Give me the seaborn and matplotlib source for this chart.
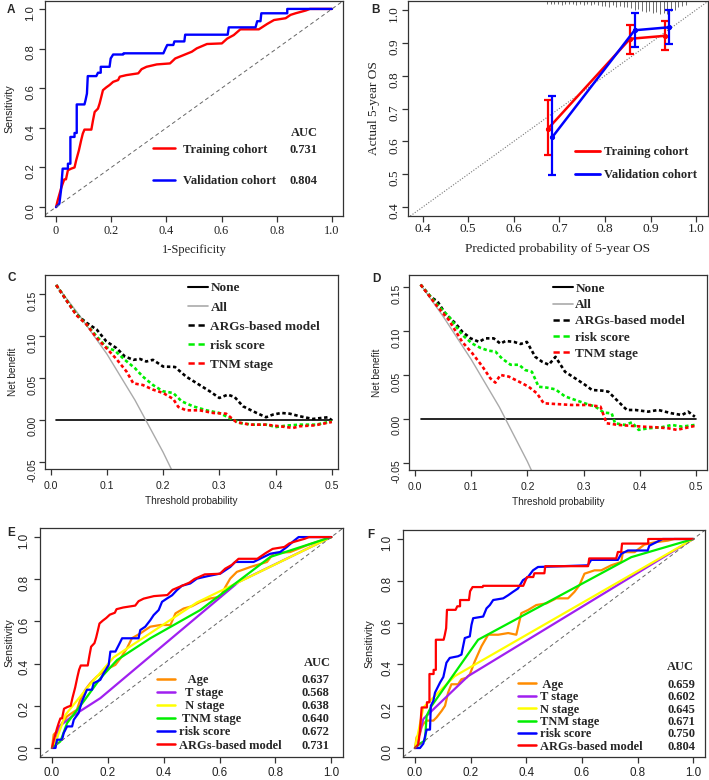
import numpy as np
import matplotlib
matplotlib.use("Agg")
import matplotlib.pyplot as plt
import seaborn as sns
from matplotlib.lines import Line2D
from matplotlib.legend import Legend
from matplotlib.ticker import FormatStrFormatter

# ---------------- panel A / E / F : ROC curves ----------------
train_fpr = [0, 0.006, 0.018, 0.024, 0.030, 0.036, 0.043, 0.055, 0.067, 0.073, 0.083, 0.091, 0.097,
             0.103, 0.128, 0.134, 0.140, 0.152, 0.158, 0.164, 0.170, 0.182, 0.194, 0.207, 0.225,
             0.231, 0.255, 0.298, 0.310, 0.328, 0.365, 0.413, 0.432, 0.462, 0.492, 0.510, 0.547,
             0.601, 0.620, 0.644, 0.668, 0.735, 0.765, 0.790, 0.832, 0.850, 0.868, 0.905, 0.920, 1.0]
train_tpr = [0, 0.034, 0.093, 0.118, 0.140, 0.140, 0.186, 0.194, 0.200, 0.236, 0.287, 0.337, 0.371,
             0.391, 0.391, 0.438, 0.480, 0.497, 0.523, 0.556, 0.590, 0.604, 0.616, 0.632, 0.641,
             0.658, 0.666, 0.675, 0.696, 0.708, 0.720, 0.725, 0.750, 0.767, 0.784, 0.801, 0.823,
             0.826, 0.850, 0.868, 0.897, 0.897, 0.924, 0.944, 0.953, 0.970, 0.978, 0.992, 1.0, 1.0]
valid_fpr = [0, 0.012, 0.018, 0.024, 0.043, 0.043, 0.052, 0.052, 0.067, 0.067, 0.075, 0.075, 0.103,
             0.107, 0.112, 0.115, 0.146, 0.152, 0.162, 0.162, 0.194, 0.198, 0.207, 0.243, 0.245,
             0.389, 0.397, 0.403, 0.425, 0.429, 0.465, 0.468, 0.622, 0.626, 0.723, 0.729, 0.741,
             0.744, 0.838, 0.838, 1.0]
valid_tpr = [0, 0.017, 0.084, 0.194, 0.194, 0.219, 0.219, 0.354, 0.354, 0.374, 0.374, 0.518, 0.518,
             0.540, 0.573, 0.661, 0.661, 0.678, 0.678, 0.708, 0.708, 0.750, 0.770, 0.770, 0.776,
             0.776, 0.801, 0.818, 0.818, 0.836, 0.836, 0.870, 0.870, 0.907, 0.907, 0.938, 0.938,
             0.978, 0.978, 1.0, 1.0]
cohort_names = ["Training cohort", "Validation cohort"]
cohort_auc = ["0.731", "0.804"]
cohort_colors = ["#FF0000", "#0000FF"]

# training cohort (E)
e_age_fpr = [0, 0.006, 0.024, 0.036, 0.054, 0.089, 0.101, 0.119, 0.137, 0.161, 0.185, 0.203, 0.227,
             0.245, 0.268, 0.286, 0.316, 0.352, 0.388, 0.424, 0.442, 0.471, 0.501, 0.531, 0.567,
             0.603, 0.621, 0.638, 0.662, 0.710, 0.770, 0.794, 0.853, 0.913, 1.0]
e_age_tpr = [0, 0.063, 0.087, 0.118, 0.150, 0.181, 0.228, 0.276, 0.307, 0.339, 0.362, 0.378, 0.394,
             0.425, 0.472, 0.520, 0.543, 0.575, 0.583, 0.583, 0.638, 0.661, 0.672, 0.693, 0.709,
             0.717, 0.764, 0.803, 0.835, 0.858, 0.882, 0.924, 0.929, 0.961, 1.0]
e_t_fpr = [0, 0.012, 0.024, 0.072, 0.173, 0.668, 1.0]
e_t_tpr = [0, 0.0, 0.100, 0.150, 0.236, 0.787, 1.0]
e_n_fpr = [0, 0.018, 0.048, 0.125, 0.221, 0.519, 1.0]
e_n_tpr = [0, 0.047, 0.157, 0.283, 0.430, 0.690, 1.0]
e_tnm_fpr = [0, 0.030, 0.054, 0.113, 0.173, 0.233, 0.352, 0.531, 0.782, 1.0]
e_tnm_tpr = [0, 0.031, 0.118, 0.220, 0.330, 0.417, 0.520, 0.654, 0.906, 1.0]
e_risk_fpr = [0, 0.012, 0.018, 0.036, 0.042, 0.054, 0.072, 0.078, 0.095, 0.107, 0.125, 0.143, 0.149,
              0.173, 0.185, 0.203, 0.209, 0.227, 0.239, 0.251, 0.310, 0.316, 0.334, 0.352, 0.364,
              0.382, 0.394, 0.412, 0.430, 0.447, 0.465, 0.495, 0.519, 0.555, 0.603, 0.638, 0.656,
              0.722, 0.746, 0.782, 0.817, 0.841, 0.865, 0.883, 1.0]
e_risk_tpr = [0, 0, 0.039, 0.039, 0.071, 0.102, 0.102, 0.134, 0.165, 0.220, 0.276, 0.276, 0.307,
              0.323, 0.354, 0.394, 0.457, 0.457, 0.488, 0.520, 0.520, 0.559, 0.575, 0.606, 0.630,
              0.654, 0.693, 0.709, 0.724, 0.748, 0.769, 0.780, 0.803, 0.814, 0.827, 0.858, 0.882,
              0.882, 0.898, 0.921, 0.929, 0.953, 0.981, 1.0, 1.0]
e_auc = ["0.637", "0.568", "0.638", "0.640", "0.672", "0.731"]

# validation cohort (F)
f_age_fpr = [0, 0.006, 0.018, 0.024, 0.030, 0.042, 0.066, 0.078, 0.096, 0.108, 0.119, 0.131, 0.155,
             0.167, 0.185, 0.197, 0.215, 0.239, 0.263, 0.299, 0.335, 0.364, 0.382, 0.406, 0.436,
             0.472, 0.508, 0.550, 0.573, 0.591, 0.609, 0.645, 0.669, 0.705, 0.741, 0.747, 0.789,
             0.824, 0.860, 0.908, 0.932, 1.0]
f_age_tpr = [0, 0.052, 0.068, 0.100, 0.115, 0.131, 0.131, 0.147, 0.178, 0.202, 0.265, 0.305, 0.305,
             0.329, 0.336, 0.352, 0.415, 0.487, 0.542, 0.542, 0.550, 0.542, 0.645, 0.660, 0.684,
             0.692, 0.716, 0.716, 0.747, 0.779, 0.834, 0.850, 0.850, 0.874, 0.890, 0.937, 0.937,
             0.973, 0.984, 0.992, 1.0, 1.0]
f_t_fpr = [0, 0.012, 0.030, 0.191, 1.0]
f_t_tpr = [0, 0.044, 0.139, 0.344, 1.0]
f_n_fpr = [0, 0.018, 0.030, 0.143, 1.0]
f_n_tpr = [0, 0.115, 0.194, 0.344, 1.0]
f_tnm_fpr = [0, 0.018, 0.036, 0.042, 0.060, 0.227, 0.777, 1.0]
f_tnm_tpr = [0, 0.021, 0.036, 0.155, 0.202, 0.518, 0.913, 1.0]
f_risk_fpr = [0, 0.018, 0.030, 0.042, 0.054, 0.057, 0.066, 0.072, 0.090, 0.102, 0.113, 0.125, 0.155,
              0.167, 0.173, 0.179, 0.197, 0.203, 0.209, 0.245, 0.257, 0.269, 0.281, 0.317, 0.335,
              0.352, 0.370, 0.388, 0.406, 0.424, 0.442, 0.621, 0.633, 0.729, 0.741, 0.765, 0.836,
              0.842, 0.890, 1.0]
f_risk_tpr = [0, 0, 0.021, 0.088, 0.088, 0.202, 0.226, 0.265, 0.313, 0.340, 0.408, 0.431, 0.439,
              0.447, 0.487, 0.526, 0.534, 0.589, 0.621, 0.629, 0.668, 0.684, 0.708, 0.716, 0.731,
              0.747, 0.763, 0.803, 0.818, 0.850, 0.866, 0.874, 0.900, 0.900, 0.929, 0.945, 0.945,
              0.968, 1.0, 1.0]
f_auc = ["0.659", "0.602", "0.645", "0.671", "0.750", "0.804"]

model_names_e = ["   Age", "  T stage", "  N stage", " TNM stage", "risk score", "ARGs-based model"]
model_names_f = [" Age", "T stage", "N stage", "TNM stage", "risk score", "ARGs-based model"]
model_colors = ["#FF8C00", "#A020F0", "#FFFF00", "#00EE00", "#0000FF", "#FF0000"]

# ---------------- panel B : calibration ----------------
train_pred = [0.674, 0.855, 0.931]
train_obs = [0.637, 0.912, 0.921]
train_lo = [0.559, 0.867, 0.877]
train_hi = [0.726, 0.955, 0.966]
valid_pred = [0.684, 0.865, 0.940]
valid_obs = [0.612, 0.938, 0.947]
valid_lo = [0.499, 0.888, 0.895]
valid_hi = [0.739, 0.990, 1.000]
rug_x = [0.673, 0.681, 0.689, 0.697, 0.705, 0.713, 0.721, 0.729, 0.737, 0.745, 0.753, 0.761, 0.769,
         0.777, 0.785, 0.793, 0.801, 0.809, 0.817, 0.825, 0.833, 0.841, 0.849, 0.857, 0.865, 0.873,
         0.881, 0.889, 0.897, 0.905, 0.913, 0.921, 0.929, 0.937, 0.945, 0.953, 0.961, 0.969, 0.977]
rug_h = [0.012, 0.015, 0.016, 0.013, 0.018, 0.012, 0.016, 0.014, 0.019, 0.013, 0.017, 0.015, 0.020,
         0.016, 0.018, 0.021, 0.022, 0.026, 0.020, 0.028, 0.025, 0.030, 0.027, 0.033, 0.040, 0.036,
         0.048, 0.052, 0.045, 0.058, 0.050, 0.062, 0.055, 0.060, 0.048, 0.040, 0.030, 0.024, 0.018]

# ---------------- panel C / D : decision curves ----------------
c_none_t, c_none_nb = [0.01, 0.5], [0.0, 0.0]
c_all_t = [0.01, 0.05, 0.10, 0.15, 0.20, 0.25]
c_all_nb = [0.161, 0.126, 0.079, 0.024, -0.038, -0.107]
c_args_t = [0.01, 0.031, 0.046, 0.064, 0.082, 0.099, 0.117, 0.132, 0.147, 0.159, 0.170, 0.182, 0.200,
            0.221, 0.241, 0.265, 0.283, 0.300, 0.315, 0.327, 0.342, 0.360, 0.383, 0.395, 0.410,
            0.425, 0.443, 0.466, 0.493, 0.500]
c_args_nb = [0.161, 0.140, 0.126, 0.116, 0.108, 0.094, 0.086, 0.076, 0.072, 0.073, 0.070, 0.072,
             0.064, 0.0635, 0.052, 0.042, 0.0345, 0.0266, 0.0305, 0.0278, 0.0167, 0.0107, 0.0036,
             0.0067, 0.0087, 0.0079, 0.0048, 0.0016, 0.0036, 0.0]
c_risk_t = [0.01, 0.046, 0.064, 0.082, 0.099, 0.114, 0.132, 0.150, 0.164, 0.182, 0.200, 0.218, 0.233,
            0.253, 0.277, 0.300, 0.318, 0.336, 0.360, 0.383, 0.401, 0.419, 0.443, 0.472, 0.500]
c_risk_nb = [0.161, 0.126, 0.114, 0.100, 0.087, 0.083, 0.072, 0.062, 0.052, 0.042, 0.0345, 0.0325,
             0.0226, 0.0167, 0.0119, 0.0087, 0.0028, -0.0032, -0.0052, -0.0052, -0.008, -0.0063,
             -0.0052, -0.0052, -0.0012]
c_tnm_t = [0.01, 0.046, 0.064, 0.082, 0.099, 0.117, 0.135, 0.147, 0.164, 0.182, 0.200, 0.218, 0.227,
           0.241, 0.265, 0.289, 0.312, 0.330, 0.354, 0.383, 0.407, 0.431, 0.443, 0.470, 0.500]
c_tnm_nb = [0.161, 0.125, 0.114, 0.098, 0.086, 0.073, 0.058, 0.044, 0.042, 0.0365, 0.0325, 0.0254,
            0.0159, 0.0119, 0.0119, 0.0087, 0.0079, -0.002, -0.0052, -0.0052, -0.0071, -0.0091,
            -0.0071, -0.006, -0.002]

d_none_t, d_none_nb = [0.01, 0.5], [0.0, 0.0]
d_all_t = [0.01, 0.05, 0.10, 0.15, 0.20, 0.25]
d_all_nb = [0.153, 0.117, 0.068, 0.014, -0.048, -0.118]
d_args_t = [0.01, 0.028, 0.040, 0.054, 0.072, 0.084, 0.099, 0.114, 0.125, 0.140, 0.152, 0.161, 0.176,
            0.188, 0.199, 0.214, 0.226, 0.238, 0.250, 0.267, 0.285, 0.303, 0.315, 0.333, 0.344,
            0.362, 0.377, 0.392, 0.415, 0.433, 0.457, 0.475, 0.486, 0.498]
d_args_nb = [0.153, 0.139, 0.134, 0.120, 0.109, 0.0996, 0.092, 0.088, 0.092, 0.092, 0.086, 0.089,
             0.088, 0.0856, 0.088, 0.071, 0.0655, 0.062, 0.071, 0.054, 0.0466, 0.039, 0.0333,
             0.0326, 0.0314, 0.020, 0.0106, 0.0106, 0.0087, 0.0106, 0.0068, 0.0049, 0.0087, 0.003]
d_risk_t = [0.01, 0.040, 0.060, 0.084, 0.102, 0.117, 0.131, 0.143, 0.155, 0.170, 0.185, 0.196, 0.208,
            0.220, 0.235, 0.250, 0.267, 0.285, 0.303, 0.321, 0.336, 0.350, 0.356, 0.374, 0.386,
            0.398, 0.415, 0.439, 0.457, 0.475, 0.498]
d_risk_nb = [0.153, 0.130, 0.117, 0.096, 0.086, 0.081, 0.078, 0.077, 0.069, 0.062, 0.062, 0.056,
             0.054, 0.037, 0.036, 0.034, 0.026, 0.022, 0.018, 0.0144, 0.0076, 0.0068, -0.0045,
             -0.0064, -0.0034, -0.012, -0.0102, -0.009, -0.0064, -0.0083, -0.0064]
d_tnm_t = [0.01, 0.040, 0.060, 0.084, 0.102, 0.120, 0.134, 0.143, 0.152, 0.167, 0.185, 0.202, 0.217,
           0.229, 0.250, 0.279, 0.309, 0.330, 0.341, 0.362, 0.380, 0.404, 0.427, 0.451, 0.466, 0.498]
d_tnm_nb = [0.153, 0.128, 0.113, 0.088, 0.075, 0.060, 0.0466, 0.0417, 0.0504, 0.0485, 0.0428, 0.0371,
            0.0295, 0.0182, 0.0174, 0.0163, 0.0163, 0.0144, -0.0045, -0.0064, -0.0072, -0.0083,
            -0.009, -0.0102, -0.012, -0.0075]
dca_names = ["None", "All", "ARGs-based model", "risk score", "TNM stage"]

roc_ticks = [0, 0.2, 0.4, 0.6, 0.8, 1.0]
a_xtick_labels = ["0", "0.2", "0.4", "0.6", "0.8", "1.0"]
cal_ticks = [0.4, 0.5, 0.6, 0.7, 0.8, 0.9, 1.0]
dca_xticks = [0, 0.1, 0.2, 0.3, 0.4, 0.5]
dca_yticks = [-0.05, 0, 0.05, 0.10, 0.15]

# ---------------- style ----------------
sns.set_style("ticks")
SANS = ['Liberation Sans', 'DejaVu Sans']
SERIF = ['Liberation Serif', 'DejaVu Serif']
plt.rcParams['font.family'] = SANS
plt.rcParams['axes.unicode_minus'] = False
INK = '#333333'
DASH = (0, (1.3, 1.0))

W, H = 709, 780
fig = plt.figure(figsize=(W / 100, H / 100), dpi=100)


def panel(l, t, r, b):
    return fig.add_axes([l / W, 1 - b / H, (r - l) / W, (b - t) / H])


def frame(ax):
    for s in ax.spines.values():
        s.set_visible(True)
        s.set_color(INK)
        s.set_linewidth(0.9)
    ax.tick_params(direction='out', length=4, width=0.9, color=INK, labelcolor='#222222')
    ax.tick_params(axis='y', labelrotation=90)


def line(ax, x, y, color, lw=1.6, ls='-', **kw):
    sns.lineplot(x=x, y=y, ax=ax, color=color, lw=lw, ls=ls, sort=False, estimator=None, **kw)


def bold_serif(size):
    return {'family': SERIF, 'weight': 'bold', 'size': size}


def keys(ax, handles, labels, x, y, size, hlen, hpad, spacing):
    leg = Legend(ax, handles, labels, loc='lower left', bbox_to_anchor=(x, y), frameon=False,
                 prop=bold_serif(size), handlelength=hlen, handletextpad=hpad,
                 labelspacing=spacing, borderpad=0, borderaxespad=0)
    ax.add_artist(leg)


def auc_col(ax, values, x, y, size, spacing):
    blank = [Line2D([], [], ls='none') for v in values]
    leg = Legend(ax, blank, values, loc='lower right', bbox_to_anchor=(x, y), frameon=False,
                 prop=bold_serif(size), handlelength=0, handletextpad=0,
                 labelspacing=spacing, borderpad=0, borderaxespad=0)
    ax.add_artist(leg)


def letter(x, y, s):
    fig.text(x / W, 1 - y / H, s, fontsize=8.5, fontweight='bold', ha='center', va='center')


# ---------------- A ----------------
ax = panel(45, 1, 343, 216)
line(ax, train_fpr, train_tpr, cohort_colors[0], lw=1.7)
line(ax, valid_fpr, valid_tpr, cohort_colors[1], lw=1.7)
ax.axline((0, 0), (1, 1), color='#666666', lw=0.7, ls=(0, (4, 3)))
ax.set_xlim(-0.04, 1.04)
ax.set_ylim(-0.045, 1.04)
ax.set_xticks(roc_ticks, a_xtick_labels)
ax.set_yticks(roc_ticks)
ax.yaxis.set_major_formatter(FormatStrFormatter('%.1f'))
frame(ax)
ax.tick_params(axis='x', labelfontfamily=SERIF, labelsize=8.8, pad=2.4)
ax.tick_params(axis='y', labelsize=8.2, pad=3)
ax.set_xlabel("1-Specificity", family=SERIF, fontsize=9, labelpad=5, color='#222222')
ax.set_ylabel("Sensitivity", fontsize=7.7, labelpad=8, color='#222222')
keys(ax, [Line2D([], [], color=c, lw=1.8) for c in cohort_colors], cohort_names,
     0.362, 0.133, 9, 1.76, 0.64, 1.58)
auc_col(ax, cohort_auc, 0.916, 0.133, 9, 1.58)
ax.text(0.872, 0.387, "AUC", transform=ax.transAxes, ha='center', va='center', **bold_serif(9))
letter(11, 10, "A")

# ---------------- B ----------------
ax = panel(408, 1, 708, 216)
ax.axline((0.4, 0.4), (1, 1), color='#777777', lw=0.8, ls=(0, (1, 1.5)))
ax.vlines(rug_x, [1 - h for h in rug_h], 1, transform=ax.get_xaxis_transform(),
          color='#555555', lw=0.6)
for pred, obs, lo, hi, c in [(train_pred, train_obs, train_lo, train_hi, cohort_colors[0]),
                             (valid_pred, valid_obs, valid_lo, valid_hi, cohort_colors[1])]:
    line(ax, pred, obs, c, lw=1.8, marker='o', markersize=3, markeredgecolor=c)
    err = [np.array(obs) - np.array(lo), np.array(hi) - np.array(obs)]
    ax.errorbar(pred, obs, yerr=err, fmt='none', ecolor=c, elinewidth=1.6, capsize=2.6,
                capthick=1.6)
ax.set_xlim(0.368, 1.026)
ax.set_ylim(0.373, 1.027)
ax.set_xticks(cal_ticks)
ax.set_yticks(cal_ticks)
ax.xaxis.set_major_formatter(FormatStrFormatter('%.1f'))
ax.yaxis.set_major_formatter(FormatStrFormatter('%.1f'))
frame(ax)
ax.tick_params(labelfontfamily=SERIF, labelsize=9.6)
ax.tick_params(axis='x', pad=1)
ax.tick_params(axis='y', pad=1.7)
ax.set_xlabel("Predicted probability of 5-year OS", family=SERIF, fontsize=9.6, labelpad=6,
              color='#222222')
ax.set_ylabel("Actual 5-year OS", family=SERIF, fontsize=9.6, labelpad=6, color='#222222')
keys(ax, [Line2D([], [], color=c, lw=2) for c in cohort_colors], cohort_names,
     0.557, 0.162, 9, 2.0, 0.32, 0.86)
letter(376, 10, "B")


# ---------------- C / D ----------------
def dca(ax, none_t, none_nb, all_t, all_nb, args_t, args_nb, risk_t, risk_nb, tnm_t, tnm_nb,
        xlim, ylim, lx, ly, spacing):
    line(ax, none_t, none_nb, 'black', lw=1.2)
    line(ax, all_t, all_nb, '#AAAAAA', lw=1.0)
    line(ax, args_t, args_nb, 'black', lw=1.9, ls=DASH)
    line(ax, risk_t, risk_nb, '#00EE00', lw=1.9, ls=DASH)
    line(ax, tnm_t, tnm_nb, '#FF0000', lw=1.9, ls=DASH)
    ax.set_xlim(*xlim)
    ax.set_ylim(*ylim)
    ax.set_xticks(dca_xticks)
    ax.set_yticks(dca_yticks)
    ax.xaxis.set_major_formatter(FormatStrFormatter('%.1f'))
    ax.yaxis.set_major_formatter(FormatStrFormatter('%.2f'))
    frame(ax)
    ax.tick_params(labelsize=7.6)
    ax.tick_params(axis='x', pad=4.5)
    ax.tick_params(axis='y', pad=1.5)
    ax.set_xlabel("Threshold probability", fontsize=7.2, labelpad=4, color='#222222')
    ax.set_ylabel("Net benefit", fontsize=7.2, labelpad=7, color='#222222')
    handles = [Line2D([], [], color='black', lw=1.5),
               Line2D([], [], color='#AAAAAA', lw=1.2),
               Line2D([], [], color='black', lw=1.8, ls=(0, (2.5, 1.5))),
               Line2D([], [], color='#00EE00', lw=1.8, ls=(0, (2.5, 1.5))),
               Line2D([], [], color='#FF0000', lw=1.8, ls=(0, (2.5, 1.5)))]
    keys(ax, handles, dca_names, lx, ly, 9.5, 1.5, 0.2, spacing)


ax = panel(45, 275, 338, 469)
dca(ax, c_none_t, c_none_nb, c_all_t, c_all_nb, c_args_t, c_args_nb, c_risk_t, c_risk_nb,
    c_tnm_t, c_tnm_nb, (-0.01, 0.511), (-0.058, 0.173), 0.488, 0.506, 0.52)
letter(12, 278, "C")

ax = panel(409, 275, 707, 470)
dca(ax, d_none_t, d_none_nb, d_all_t, d_all_nb, d_args_t, d_args_nb, d_risk_t, d_risk_nb,
    d_tnm_t, d_tnm_nb, (-0.0107, 0.5196), (-0.0576, 0.164), 0.483, 0.565, 0.30)
letter(376, 279, "D")


# ---------------- E / F ----------------
def roc_models(ax, curves, names, aucs, lx, ly, ax_auc, hx, hy, spacing, ypad):
    for (fpr, tpr), c in zip(curves, model_colors):
        line(ax, fpr, tpr, c, lw=1.6)
    ax.axline((0, 0), (1, 1), color='#666666', lw=0.7, ls=(0, (4, 3)))
    ax.set_xlim(-0.043, 1.042)
    ax.set_ylim(-0.043, 1.043)
    ax.set_xticks(roc_ticks)
    ax.set_yticks(roc_ticks)
    ax.xaxis.set_major_formatter(FormatStrFormatter('%.1f'))
    ax.yaxis.set_major_formatter(FormatStrFormatter('%.1f'))
    frame(ax)
    ax.tick_params(labelsize=8.4)
    ax.tick_params(axis='y', pad=3)
    ax.set_ylabel("Sensitivity", fontsize=7.7, labelpad=ypad, color='#222222')
    keys(ax, [Line2D([], [], color=c, lw=1.8) for c in model_colors], names,
         lx, ly, 9, 1.44, 0.32, spacing)
    auc_col(ax, aucs, ax_auc, ly, 9, spacing)
    ax.text(hx, hy, "AUC", transform=ax.transAxes, ha='center', va='center', **bold_serif(9))


ax = panel(40, 528, 343, 757)
roc_models(ax, [(e_age_fpr, e_age_tpr), (e_t_fpr, e_t_tpr), (e_n_fpr, e_n_tpr),
                (e_tnm_fpr, e_tnm_tpr), (e_risk_fpr, e_risk_tpr), (train_fpr, train_tpr)],
           model_names_e, e_auc, 0.386, 0.024, 0.957, 0.917, 0.41, 0.09, 2.5)
letter(11, 533, "E")

ax = panel(403, 530, 705, 757)
roc_models(ax, [(f_age_fpr, f_age_tpr), (f_t_fpr, f_t_tpr), (f_n_fpr, f_n_tpr),
                (f_tnm_fpr, f_tnm_tpr), (f_risk_fpr, f_risk_tpr), (valid_fpr, valid_tpr)],
           model_names_f, f_auc, 0.381, 0.019, 0.967, 0.917, 0.396, 0.03, 5)
letter(371, 535, "F")

fig.savefig("out.png", dpi=100)
